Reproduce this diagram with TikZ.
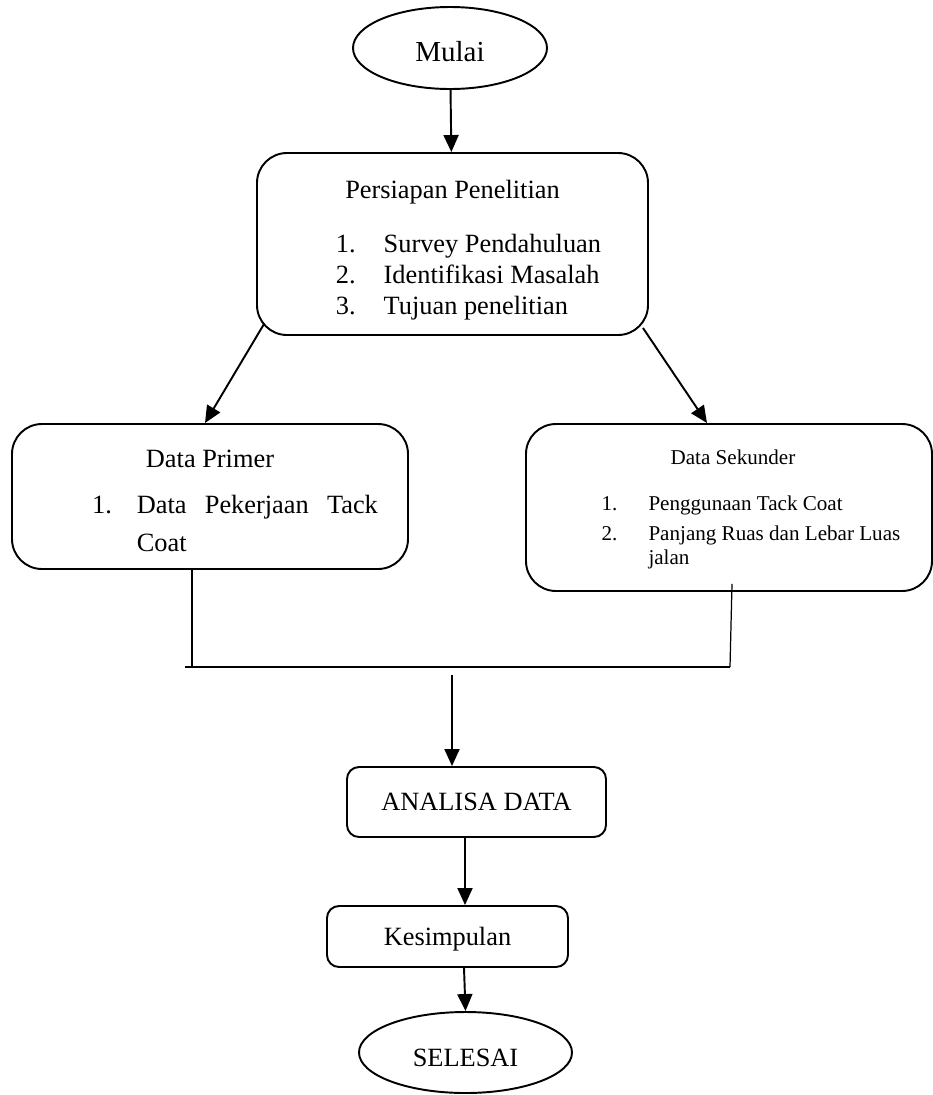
\documentclass[tikz,border=0pt]{standalone}
\usepackage{fontspec}
\setmainfont{Liberation Serif}
\usepackage{tikz}
\usetikzlibrary{arrows.meta,shapes.geometric}

% push the text of a node down by half of #1
\newcommand{\lowered}[2]{\raisebox{0pt}[\dimexpr\height+#1\relax]{#2}}

\begin{document}
\begin{tikzpicture}[
		every node/.style={font=\fontsize{15pt}{17.6pt}\selectfont},
		box/.style={draw, line width=1.1pt, rounded corners=0.6cm, align=center, inner sep=0pt},
		oval/.style={ellipse, draw, line width=1.1pt, inner sep=0pt},
		arr/.style={-{Triangle[length=0.34cm, width=0.3cm]}, line width=1.1pt},
		link/.style={line width=0.7pt}
	]
  \useasboundingbox (0cm, 0cm) rectangle (18.66cm, -21.9cm);
  \node (mulai) [oval, minimum width=3.88cm, minimum height=1.64cm, font=\fontsize{16.5pt}{19pt}\selectfont] at (9cm, -0.96cm) {\lowered{4.5pt}{Mulai}};
  \node (persiapan) [box, minimum width=7.82cm, minimum height=3.64cm] at (9.05cm, -4.88cm)
    {\lowered{9.1pt}{Persiapan Penelitian}\\[13pt]\hspace*{0.64cm}\begin{tabular}[t]{@{}l@{\hspace{0.56cm}}l@{}}
      1.&Survey Pendahuluan\\2.&Identifikasi Masalah\\3.&Tujuan penelitian\end{tabular}};
  \node (primer) [box, minimum width=7.92cm, minimum height=2.9cm] at (4.2cm, -9.93cm)
    {\lowered{10.2pt}{Data Primer}\\[9pt]\hspace*{1cm}\begin{tabular}[t]{@{}l@{\hspace{0.5cm}}l@{}}
      1.&\makebox[4.82cm][s]{Data\hfill Pekerjaan\hfill Tack}\\[4pt]&Coat\end{tabular}};
  \node (sekunder) [box, minimum width=8.12cm, minimum height=3.34cm, font=\fontsize{12pt}{13.6pt}\selectfont] at (14.58cm, -10.15cm)
    {\hspace*{0.16cm}\lowered{3.4pt}{Data Sekunder}\\[12.5pt]\hspace*{0.88cm}\begin{tabular}[t]{@{}l@{\hspace{0.62cm}}l@{}}
      1.&Penggunaan Tack Coat\\[3.4pt]2.&Panjang Ruas dan Lebar Luas\\&jalan\end{tabular}};
  \node (analisa) [box, rounded corners=0.24cm, minimum width=5.18cm, minimum height=1.4cm] at (9.53cm, -16.04cm) {ANALISA DATA};
  \node (kesimpulan) [box, rounded corners=0.24cm, minimum width=4.82cm, minimum height=1.22cm] at (8.95cm, -18.73cm) {\lowered{3.4pt}{Kesimpulan}};
  \node (selesai) [oval, minimum width=4.26cm, minimum height=1.62cm] at (9.31cm, -21.05cm) {\lowered{5.7pt}{SELESAI}};
  \coordinate (m_l) at (3.7cm, -13.34cm);
  \coordinate (m_r) at (14.6cm, -13.34cm);
  \coordinate (m_c) at (9.04cm, -13.5cm);
  \draw [arr] (mulai) -- (persiapan);
  \draw [arr] ([shift={(0.16cm, 0.24cm)}]persiapan.south west) -- ([xshift=-0.1cm]primer.north);
  \draw [arr] ([shift={(-0.12cm, 0.16cm)}]persiapan.south east) -- ([xshift=-0.44cm]sekunder.north);
  \draw [link] ([xshift=-0.36cm]primer.south) -- ([xshift=-0.36cm]primer.south |- m_l);
  \draw [link] ([shift={(0.06cm, 0.16cm)}]sekunder.south) -- (m_r);
  \draw [link] (m_l) -- (m_r);
  \draw [arr] (m_c) -- (m_c |- analisa.north);
  \draw [arr] ([xshift=-0.23cm]analisa.south) -- ([xshift=-0.23cm]analisa.south |- kesimpulan.north);
  \draw [arr] ([xshift=0.33cm]kesimpulan.south) -- (selesai.north);
\end{tikzpicture}
\end{document}
